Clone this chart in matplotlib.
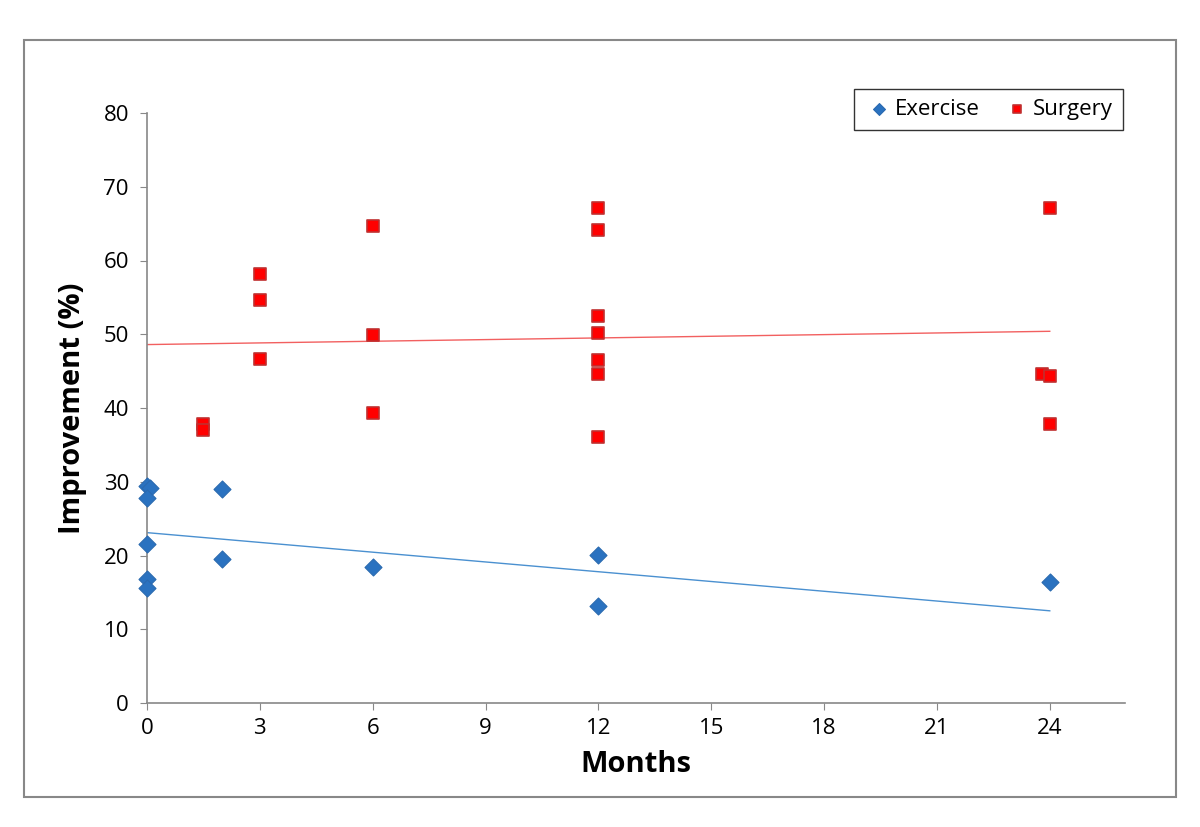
from matplotlib import pyplot as plt
from matplotlib.patches import Rectangle
import numpy as np

plt.rcParams['font.family'] = ['Open Sans', 'DejaVu Sans']

# Exercise group (months, improvement %)
ex_months = [0, 0.08, 0, 0, 0, 0, 2, 2, 6, 12, 12, 24]
ex_improve = [29.4, 29.2, 27.8, 21.6, 16.8, 15.6, 29.0, 19.5, 18.4, 20.1, 13.2, 16.4]

# Surgery group
su_months = [1.5, 1.5, 3, 3, 3, 6, 6, 6, 12, 12, 12, 12, 12, 12, 12, 24, 23.8, 24, 24]
su_improve = [37.8, 37.0, 58.2, 54.6, 46.6, 64.7, 49.9, 39.3,
              67.1, 64.1, 52.5, 50.2, 46.5, 44.6, 36.1, 67.1, 44.6, 44.3, 37.8]

# linear trend endpoints
trend_x = [0, 24]
ex_trend = [23.1, 12.5]
su_trend = [48.6, 50.4]

fig = plt.figure(figsize=(12, 8.27), dpi=100)
ax = fig.add_axes([147/1200, 1-703/827, (1125-147)/1200, (703-113)/827])

fig.patches.append(Rectangle((24/1200, 1-797/827), 1152/1200, 757/827,
                             transform=fig.transFigure, fill=False,
                             edgecolor='#888888', lw=1.5))

ax.plot(trend_x, ex_trend, color='#4a90d0', lw=1)
ax.plot(trend_x, su_trend, color='#f26060', lw=1)

ax.scatter(ex_months, ex_improve, marker='D', s=75, color='#2a72c0',
           edgecolor='#2a6ab0', lw=0.8, zorder=3, label='Exercise', clip_on=False)
ax.scatter(su_months, su_improve, marker='s', s=85, color='#ff0000',
           edgecolor='#c03030', lw=1.2, zorder=3, label='Surgery', clip_on=False)

ax.set_xlim(0, 26)
ax.set_ylim(0, 80)
ax.set_xticks(range(0, 25, 3))
ax.set_yticks(range(0, 81, 10))
for s in ['top', 'right']:
    ax.spines[s].set_visible(False)
for s in ['left', 'bottom']:
    ax.spines[s].set_color('#888888')
    ax.spines[s].set_linewidth(1.2)
ax.tick_params(colors='#888888', labelcolor='black', labelsize=16, length=5)
ax.tick_params(axis='y', pad=8)
ax.tick_params(axis='x', pad=6)

ax.set_xlabel('Months', fontsize=21, fontweight='bold', labelpad=8)
ax.set_ylabel('Improvement (%)', fontsize=21, fontweight='bold', labelpad=12)

leg = ax.legend(loc='upper right', bbox_to_anchor=(1134/1200, 1-78/827),
                bbox_transform=fig.transFigure, ncol=2, fontsize=16,
                frameon=True, fancybox=False, handletextpad=0.0,
                columnspacing=1.0, borderpad=0.45, handlelength=1.4,
                markerscale=0.7)
leg.get_frame().set_edgecolor('black')
leg.get_frame().set_linewidth(1)

plt.savefig('out.png')
